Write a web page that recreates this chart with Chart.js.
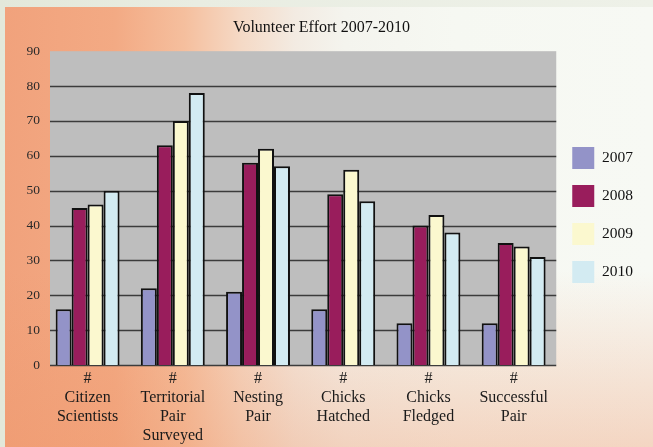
<!DOCTYPE html>
<html>
<head>
<meta charset="utf-8">
<script src="https://cdn.jsdelivr.net/npm/chart.js@4.4.0/dist/chart.umd.min.js"></script>
<style>
  html, body { margin: 0; padding: 0; }
  body {
    width: 653px; height: 447px; overflow: hidden; position: relative;
    background: linear-gradient(90deg, #e3e8da 0%, #e9ede2 30%, #eef1e8 100%);
  }
  #panel {
    position: absolute; left: 5px; top: 7px; right: 0; bottom: 0;
    background:
      linear-gradient(180deg, rgba(238,150,105,0) 60%, rgba(238,148,102,0.35) 100%),
      linear-gradient(90deg, #f1a27c 0px, #f3aa84 110px, #f5bf9e 180px, #f5d9c5 235px, #f3ebe2 290px, #f4f4ee 340px, #f6f8f2 450px, #f7f9f4 648px);
  }
  #wrap { position: absolute; left: 0; top: 0; width: 653px; height: 447px; }
</style>
</head>
<body>
<div id="panel"></div>
<div id="wrap"><canvas id="chart-canvas" width="653" height="447"></canvas></div>
<script>
const categories = [
  ['#', 'Citizen', 'Scientists'],
  ['#', 'Territorial', 'Pair', 'Surveyed'],
  ['#', 'Nesting', 'Pair'],
  ['#', 'Chicks', 'Hatched'],
  ['#', 'Chicks', 'Fledged'],
  ['#', 'Successful', 'Pair'],
];
const years = ['2007', '2008', '2009', '2010'];
const values2007 = [16, 22, 21, 16, 12, 12];
const values2008 = [45, 63, 58, 49, 40, 35];
const values2009 = [46, 70, 62, 56, 43, 34];
const values2010 = [50, 78, 57, 47, 38, 31];
const yTicks = [0, 10, 20, 30, 40, 50, 60, 70, 80, 90];

const colors = ['#9393c8', '#991d5c', '#fbf8cf', '#d3ebf2'];
const serif = "'Liberation Serif', 'Times New Roman', serif";

// gray plot panel + horizontal rules, drawn from the y scale
const plotBack = {
  id: 'plotBack',
  beforeDatasetsDraw(chart) {
    const { ctx, chartArea } = chart;
    const y = chart.scales.y;
    const left = chartArea.left + 5;
    ctx.save();
    ctx.fillStyle = '#bebebe';
    ctx.fillRect(left, chartArea.top, chartArea.right - left, chartArea.bottom - chartArea.top);
    ctx.strokeStyle = '#3c3c3c';
    ctx.lineWidth = 1.6;
    yTicks.slice(0, -1).forEach(v => {
      const py = Math.round(y.getPixelForValue(v)) + 0.5;
      ctx.beginPath();
      ctx.moveTo(left, py);
      ctx.lineTo(chartArea.right, py);
      ctx.stroke();
    });
    ctx.restore();
  }
};

const ctx = document.querySelector('#chart-canvas').getContext('2d');
const allValues = [values2007, values2008, values2009, values2010];

new Chart(ctx, {
  type: 'bar',
  data: {
    labels: categories,
    datasets: years.map((yr, i) => ({
      label: yr,
      data: allValues[i],
      backgroundColor: colors[i],
      borderColor: '#111',
      borderWidth: 2,
      categoryPercentage: 0.75,
      barPercentage: 1.0
    }))
  },
  options: {
    responsive: false,
    animation: false,
    devicePixelRatio: 1,
    layout: { padding: { left: 0, right: 10, top: 0, bottom: 0 } },
    plugins: {
      title: {
        display: true,
        text: 'Volunteer Effort 2007-2010',
        color: '#111',
        font: { family: serif, size: 16, weight: 'normal', lineHeight: 1.2 },
        padding: { top: 18, bottom: 14 }
      },
      legend: {
        position: 'right',
        fullSize: false,
        title: { display: true, text: '', font: { size: 2, lineHeight: 1 }, padding: { top: 12, bottom: 0 } },
        labels: {
          boxWidth: 22,
          boxHeight: 22,
          padding: 16,
          color: '#111',
          font: { family: serif, size: 15.5 },
          generateLabels(chart) {
            return Chart.defaults.plugins.legend.labels.generateLabels(chart).map(item => {
              item.lineWidth = 0;
              item.strokeStyle = 'rgba(0,0,0,0)';
              return item;
            });
          }
        }
      },
      tooltip: { enabled: false }
    },
    scales: {
      x: {
        grid: { display: false, drawTicks: false },
        border: { display: false },
        ticks: {
          color: '#1a1a1a',
          padding: 4,
          maxRotation: 0,
          autoSkip: false,
          font: { family: serif, size: 16, lineHeight: 19 / 16 }
        },
        afterFit(scale) { scale.height = 82; }
      },
      y: {
        min: yTicks[0],
        max: yTicks[yTicks.length - 1],
        grid: { display: false, drawTicks: false },
        border: { display: false },
        ticks: {
          stepSize: 10,
          padding: 5,
          color: '#2a2a2a',
          font: { family: serif, size: 13.5 }
        },
        afterFit(scale) { scale.width = 45; }
      }
    }
  },
  plugins: [plotBack]
});
</script>
</body>
</html>
